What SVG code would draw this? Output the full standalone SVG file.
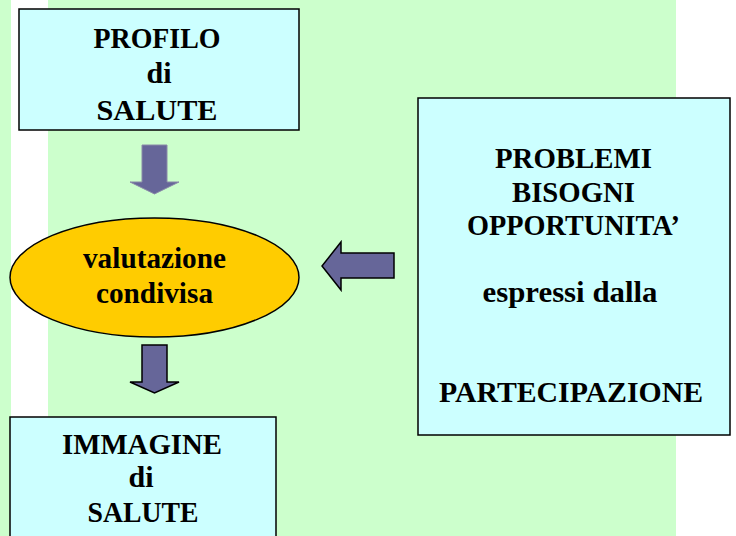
<svg xmlns="http://www.w3.org/2000/svg" width="736" height="536" viewBox="0 0 736 536">
<style>
.box{fill:#CCFFFF;stroke:#000;stroke-width:1.5}
.t{font-family:"Liberation Serif","Times New Roman",serif;font-weight:bold;font-size:30px;fill:#000;text-anchor:middle}
.arr{fill:#666699;stroke:#000;stroke-width:1.5;stroke-linejoin:miter}
</style>
<rect x="0" y="0" width="736" height="536" fill="#FFFFFF"/>
<rect x="0" y="0" width="676" height="536" fill="#CCFFCC"/>
<rect x="11" y="0" width="37" height="417" fill="#FFFFFF"/>
<g id="connectors">
<polygon class="arr" style="stroke:#8a8aa8;stroke-width:1" points="142,145 167,145 167,182 179,182 154.5,194 130,182 142,182"/>
<polygon class="arr" points="142,345 167,345 167,382 179,382 154.5,393 130,382 142,382"/>
<polygon class="arr" points="394,253 394,278 341,278 341,290 322,266 341,242 341,253"/>
</g>
<g id="profilo">
<rect class="box" x="19" y="9" width="280" height="121"/>
<text class="t" x="157" y="48" textLength="127" lengthAdjust="spacingAndGlyphs">PROFILO</text>
<text class="t" x="159" y="83">di</text>
<text class="t" x="157" y="120" textLength="121" lengthAdjust="spacingAndGlyphs">SALUTE</text>
</g>
<g id="valutazione">
<ellipse cx="154.5" cy="277.5" rx="144.5" ry="59.5" fill="#FFCC00" stroke="#000" stroke-width="1.5"/>
<text class="t" x="154.5" y="268" textLength="143" lengthAdjust="spacingAndGlyphs">valutazione</text>
<text class="t" x="154.5" y="303" textLength="117" lengthAdjust="spacingAndGlyphs">condivisa</text>
</g>
<g id="immagine">
<rect class="box" x="10" y="417" width="266" height="130"/>
<text class="t" x="142" y="454" textLength="160" lengthAdjust="spacingAndGlyphs">IMMAGINE</text>
<text class="t" x="141" y="487">di</text>
<text class="t" x="143" y="522" textLength="111" lengthAdjust="spacingAndGlyphs">SALUTE</text>
</g>
<g id="problemi">
<rect class="box" x="418" y="98" width="312" height="337"/>
<text class="t" x="573.5" y="168" textLength="157" lengthAdjust="spacingAndGlyphs">PROBLEMI</text>
<text class="t" x="573.5" y="202" textLength="123" lengthAdjust="spacingAndGlyphs">BISOGNI</text>
<text class="t" x="573.5" y="235" textLength="213" lengthAdjust="spacingAndGlyphs">OPPORTUNITA’</text>
<text class="t" x="570" y="302" textLength="175" lengthAdjust="spacingAndGlyphs">espressi dalla</text>
<text class="t" x="571" y="402" textLength="264" lengthAdjust="spacingAndGlyphs">PARTECIPAZIONE</text>
</g>
</svg>
